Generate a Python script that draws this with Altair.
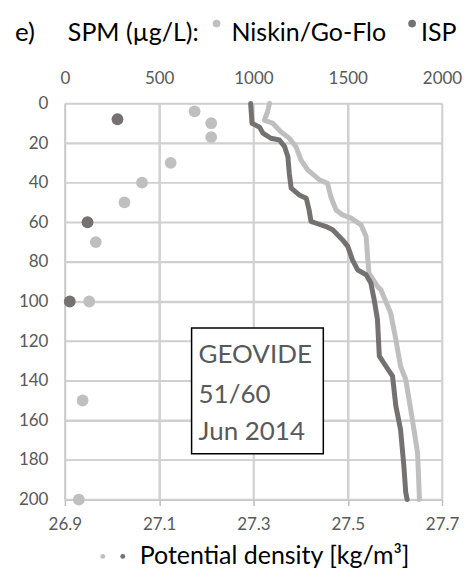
import altair as alt
import pandas as pd

# SPM samples (µg/L) vs depth (m)
niskin_depth = [4, 10, 17, 30, 40, 50, 70, 100, 150, 200]
niskin_spm = [688, 776, 776, 561, 409, 316, 164, 129, 94, 74]
isp_depth = [8, 60, 100]
isp_spm = [279, 120, 26]

# Potential density profiles (kg/m3) vs depth (m)
dark_depth = [0, 10, 12, 15, 17.6, 18.5, 21.8, 26.9, 35.3, 42.8, 46.2, 47.9, 53.8, 59.6,
              60.5, 62.2, 63.8, 68.9, 72.2, 79, 84, 86.5, 90.7, 99, 109, 127.6, 132.7,
              137.7, 152.8, 164.6, 183, 196.5, 200]
dark_rho = [27.294, 27.297, 27.313, 27.320, 27.337, 27.355, 27.366, 27.373, 27.376, 27.380,
            27.397, 27.412, 27.418, 27.422, 27.433, 27.454, 27.468, 27.489, 27.500, 27.510,
            27.521, 27.539, 27.549, 27.556, 27.563, 27.567, 27.581, 27.595, 27.602, 27.612,
            27.619, 27.623, 27.626]
light_depth = [0, 4.2, 8.4, 10, 14.3, 17.6, 21.8, 28.6, 33.6, 38.6, 40.3, 47, 53.8, 56.3,
               57.9, 61.3, 67.2, 77.3, 85.6, 92.4, 94, 105.8, 119.2, 132.7, 139.4, 149.5,
               159.5, 176.3, 193, 200]
light_rho = [27.334, 27.330, 27.323, 27.341, 27.358, 27.376, 27.390, 27.401, 27.415, 27.440,
             27.457, 27.464, 27.475, 27.489, 27.507, 27.528, 27.539, 27.542, 27.545, 27.563,
             27.570, 27.591, 27.602, 27.612, 27.623, 27.630, 27.637, 27.648, 27.651, 27.652]

spm_ticks = [0, 500, 1000, 1500, 2000]
rho_ticks = [26.9, 27.1, 27.3, 27.5, 27.7]
depth_ticks = [0, 20, 40, 60, 80, 100, 120, 140, 160, 180, 200]

LIGHT = "#bfbfbf"
DARK = "#767171"
GRID = "#d0d0d0"
FONT = "Lato"
LABEL = "#595959"

W, H = 378, 397

dens = pd.concat([
    pd.DataFrame({"depth": light_depth, "rho": light_rho, "cast": "light"}),
    pd.DataFrame({"depth": dark_depth, "rho": dark_rho, "cast": "dark"}),
])
spm = pd.concat([
    pd.DataFrame({"depth": niskin_depth, "spm": niskin_spm, "src": "Niskin/Go-Flo"}),
    pd.DataFrame({"depth": isp_depth, "spm": isp_spm, "src": "ISP"}),
])

xscale = alt.Scale(domain=[26.9, 27.7], nice=False)
yscale = alt.Scale(domain=[0, 200], reverse=True, nice=False)
yaxis = alt.Axis(values=depth_ticks, grid=True, gridColor=GRID, gridWidth=1.5, ticks=False,
                 domainColor=LIGHT, domainWidth=1.5, labelColor=LABEL, labelFont=FONT,
                 labelFontSize=17, labelPadding=17, labelFlush=False, title=None)
xaxis = alt.Axis(values=rho_ticks, format=".1f", grid=True, gridColor=GRID, gridWidth=1.5,
                 tickColor=LIGHT, tickSize=6, tickWidth=1.5, domainColor=LIGHT,
                 domainWidth=1.5, labelColor=LABEL, labelFont=FONT, labelFontSize=17,
                 labelPadding=11, labelFlush=False, title=None)

hgrid = alt.Chart(pd.DataFrame({"depth": depth_ticks})).mark_rule(
    color=GRID, strokeWidth=1.5, opacity=1).encode(
    y=alt.Y("depth:Q", scale=yscale, axis=yaxis),
    x=alt.value(0), x2=alt.value(W))
vgrid = alt.Chart(pd.DataFrame({"rho": rho_ticks})).mark_rule(
    color=GRID, strokeWidth=1.5, opacity=1).encode(
    x=alt.X("rho:Q", scale=xscale, axis=xaxis),
    y=alt.value(0), y2=alt.value(H))

lines = alt.Chart(dens).mark_line(strokeWidth=5, strokeCap="round", strokeJoin="round").encode(
    x=alt.X("rho:Q", scale=xscale, axis=xaxis),
    y=alt.Y("depth:Q", scale=yscale, axis=yaxis),
    color=alt.Color("cast:N", scale=alt.Scale(domain=["light", "dark"], range=[LIGHT, DARK]),
                    legend=None),
    order=alt.Order("depth:Q"),
    detail="cast:N",
)

density_layer = alt.layer(vgrid, hgrid, lines)

points = alt.Chart(spm).mark_circle(size=140, opacity=1).encode(
    x=alt.X("spm:Q", scale=alt.Scale(domain=[0, 2000], nice=False),
            axis=alt.Axis(orient="top", values=spm_ticks, format="d", grid=False, ticks=False,
                          domain=False, labelColor=LABEL, labelFont=FONT, labelFontSize=17,
                          labelPadding=16, labelFlush=False, title=None)),
    y=alt.Y("depth:Q", scale=yscale, axis=yaxis),
    color=alt.Color("src:N", scale=alt.Scale(domain=["Niskin/Go-Flo", "ISP"], range=[LIGHT, DARK]),
                    legend=None),
)

one = pd.DataFrame({"a": [0]})

box = alt.Chart(one).mark_rect(fill="white", stroke="black", strokeWidth=1.5).encode(
    x=alt.value(127), x2=alt.value(259), y=alt.value(225), y2=alt.value(351))

box_lines = ["GEOVIDE", "51/60", "Jun 2014"]
box_y = [260, 300, 337]
box_texts = [
    alt.Chart(one).mark_text(text=t, font=FONT, fontSize=26, color=LABEL, align="left",
                             baseline="alphabetic").encode(x=alt.value(134), y=alt.value(yy))
    for t, yy in zip(box_lines, box_y)
]

def txt(t, x, y, size, color="black"):
    return alt.Chart(one).mark_text(text=t, font=FONT, fontSize=size, color=color, align="left",
                                    baseline="alphabetic").encode(x=alt.value(x), y=alt.value(y))

def dot(x, y, size, color):
    return alt.Chart(one).mark_circle(size=size, color=color, opacity=1).encode(
        x=alt.value(x), y=alt.value(y))

header = [
    txt("e)", -50, -63, 26),
    txt("SPM (µg/L):", 3, -63, 25),
    dot(152, -80, 60, LIGHT),
    txt("Niskin/Go-Flo", 167, -63, 25),
    dot(348, -80, 60, DARK),
    txt("ISP", 357, -63, 25),
]
footer = [
    dot(38, 454, 24, LIGHT),
    dot(58, 454, 24, DARK),
    txt("Potential density [kg/m³]", 75, 462, 25),
]

chart = alt.layer(density_layer, points, box, *box_texts, *header, *footer).resolve_scale(
    x="independent", color="independent"
).properties(
    width=W, height=H,
    autosize=alt.AutoSizeParams(type="none"),
    padding={"left": 57, "top": 95, "right": 20, "bottom": 75},
).configure_view(stroke=None)

chart.save("out.html", embed_options={"renderer": "svg", "actions": False})
